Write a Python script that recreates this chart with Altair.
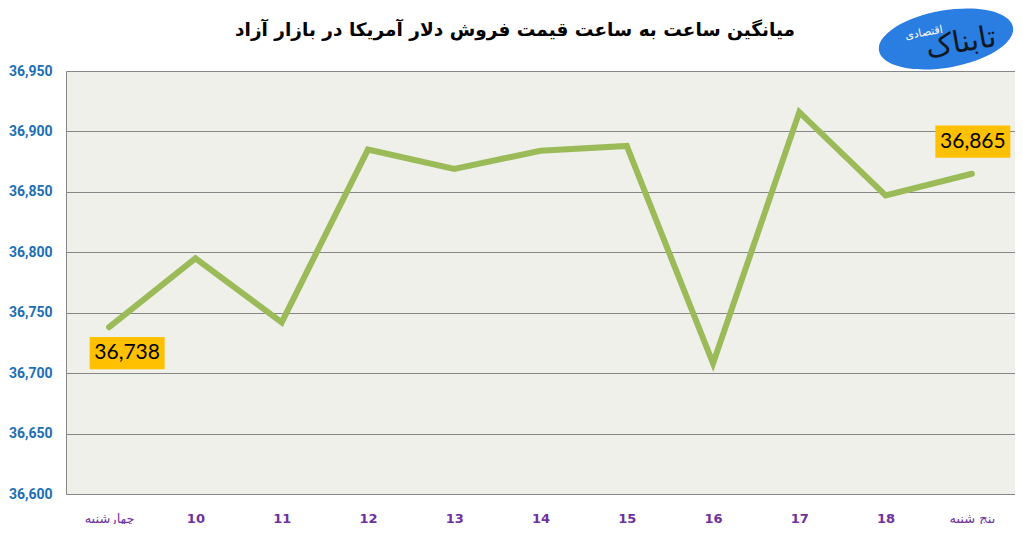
import altair as alt
import pandas as pd

categories = ["چهارشنبه", "10", "11", "12", "13", "14", "15", "16", "17", "18", "پنج شنبه"]
prices = [36738, 36795, 36742, 36885, 36869, 36884, 36888, 36708, 36916, 36847, 36865]
y_ticks = [36600, 36650, 36700, 36750, 36800, 36850, 36900, 36950]
title_text = "میانگین ساعت به ساعت قیمت فروش دلار آمریکا در بازار آزاد"

df = pd.DataFrame({"cat": categories, "price": prices, "idx": list(range(len(categories)))})
df["label"] = df["price"].map(lambda v: f"{v:,}")

x_enc = alt.X("cat:N", sort=categories, scale=alt.Scale(type="point", padding=0.5),
              axis=alt.Axis(title=None, labelAngle=0, labelColor="#7030A0", labelFont="DejaVu Sans",
                            labelFontWeight={"condition": {"test": "length(datum.label) <= 2", "value": "bold"},
                                             "value": "normal"},
                            labelFontSize=13, labelPadding=18,
                            ticks=False, domain=False, grid=False))
y_enc = alt.Y("price:Q", scale=alt.Scale(domain=[36600, 36950], nice=False, zero=False),
              axis=alt.Axis(title=None, values=y_ticks, format=",d", labelColor="#1B6FB5",
                            labelFont="Roboto", labelFontWeight="bold", labelFontSize=14,
                            labelPadding=14, ticks=False, domain=True, domainColor="#868686",
                            grid=True, gridColor="#868686", gridWidth=1))

line = alt.Chart(df).mark_line(color="#9BBB59", strokeWidth=6, strokeCap="round",
                               strokeJoin="miter").encode(x=x_enc, y=y_enc)

box_path = "M-1,-0.43L1,-0.43L1,0.43L-1,0.43Z"

first = df[df["idx"] == 0]
last = df[df["idx"] == len(categories) - 1]

def label_layers(d, dx, dy):
    box = alt.Chart(d).mark_point(shape=box_path, filled=True, size=5625, color="#FFC000",
                                  opacity=1, xOffset=dx, yOffset=dy).encode(
        x=alt.X("cat:N", sort=categories), y="price:Q")
    txt = alt.Chart(d).mark_text(font="Lato", fontSize=21, color="black",
                                 dx=dx, dy=dy, baseline="middle", align="center").encode(
        x=alt.X("cat:N", sort=categories), y="price:Q", text="label:N")
    return [box, txt]

title_mark = alt.Chart(pd.DataFrame({"t": [title_text]})).mark_text(
    font="DejaVu Sans", fontSize=18.5, fontWeight="bold", color="black",
    align="center", baseline="middle").encode(
    x=alt.value(449), y=alt.value(-41), text="t:N")

logo_ellipse = alt.Chart(pd.DataFrame({"a": [0]})).mark_point(
    shape="M-1,0A1,0.42,0,1,1,1,0A1,0.42,0,1,1,-1,0Z", filled=True, size=18500,
    color="#2A7DE1", opacity=1, angle=350).encode(x=alt.value(880), y=alt.value(-32))
logo_name = alt.Chart(pd.DataFrame({"t": ["تابناک"]})).mark_text(
    font="DejaVu Sans", fontSize=30, color="#101820", angle=350).encode(
    x=alt.value(895), y=alt.value(-28), text="t:N")
logo_sub = alt.Chart(pd.DataFrame({"t": ["اقتصادی"]})).mark_text(
    font="DejaVu Sans", fontSize=11, color="white", angle=350).encode(
    x=alt.value(858), y=alt.value(-38), text="t:N")

chart = alt.layer(line, *label_layers(first, 18, 26), *label_layers(last, 1, -32),
                  title_mark, logo_ellipse, logo_name, logo_sub).properties(
    width=949, height=423,
    autosize=alt.AutoSizeParams(type="none"),
    padding={"left": 58, "top": 63, "right": 0, "bottom": 30},
    background="white",
).configure_view(fill="#EFF0E9", stroke=None)

chart.save("out.html", embed_options={"renderer": "svg", "actions": False})
